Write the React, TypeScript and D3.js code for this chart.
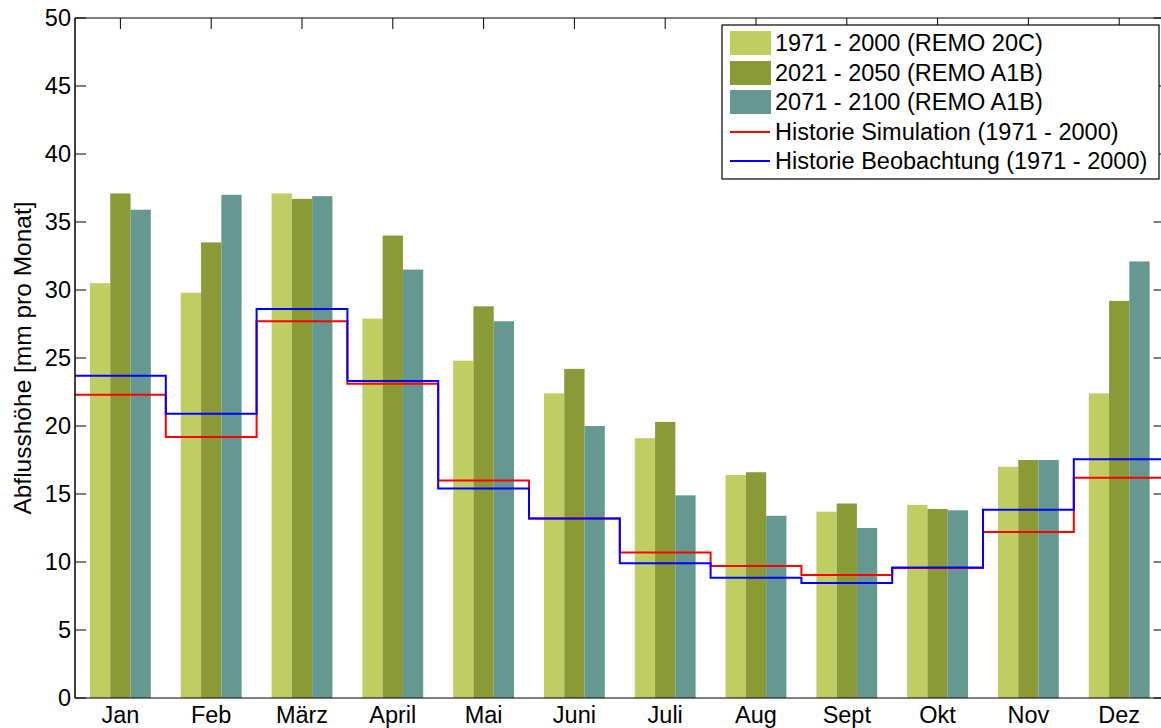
import React from "react";
import * as d3 from "d3";

const months = ["Jan", "Feb", "März", "April", "Mai", "Juni", "Juli", "Aug", "Sept", "Okt", "Nov", "Dez"];
const remo20C = [30.5, 29.8, 37.1, 27.9, 24.8, 22.4, 19.1, 16.4, 13.7, 14.2, 17.0, 22.4];
const remoA1B_2021 = [37.1, 33.5, 36.7, 34.0, 28.8, 24.2, 20.3, 16.6, 14.3, 13.9, 17.5, 29.2];
const remoA1B_2071 = [35.9, 37.0, 36.9, 31.5, 27.7, 20.0, 14.9, 13.4, 12.5, 13.8, 17.5, 32.1];
const histSim = [22.3, 19.2, 27.7, 23.1, 16.0, 13.2, 10.7, 9.7, 9.05, 9.55, 12.2, 16.2];
const histObs = [23.7, 20.9, 28.6, 23.3, 15.4, 13.2, 9.9, 8.85, 8.45, 9.6, 13.85, 17.55];
const yTicks = [0, 5, 10, 15, 20, 25, 30, 35, 40, 45, 50];
const seriesNames = ["1971 - 2000 (REMO 20C)", "2021 - 2050 (REMO A1B)", "2071 - 2100 (REMO A1B)"];
const lineNames = ["Historie Simulation (1971 - 2000)", "Historie Beobachtung (1971 - 2000)"];

const barColors = ["#bfcd63", "#8a9a36", "#649891"];
const lineColors = ["#ff0000", "#0000ff"];

export default function App() {
  const W = 1161, H = 728;
  const left = 75, top = 18, bottom = 698;
  const step = 90.8;
  const right = left + step * 12;
  const x = d3.scaleBand<string>().domain(months).range([left, right]).padding(0);
  const y = d3.scaleLinear().domain([0, 50]).range([bottom, top]);
  const series = [remo20C, remoA1B_2021, remoA1B_2071];
  const groupW = step * 0.67;
  const sub = d3.scaleBand<number>().domain([0, 1, 2]).range([-groupW / 2, groupW / 2]).padding(0);
  const font = "'Liberation Sans', Arial, sans-serif";
  const fs = 23.5;
  const tickLen = 11;

  const stepLine = (vals: number[]) => {
    const pts: [number, number][] = vals.map((v, i) => [x(months[i])!, y(v)]);
    pts.push([right, y(vals[vals.length - 1])]);
    return d3.line().curve(d3.curveStepAfter)(pts) || "";
  };

  const legendX = 722, legendY = 25, legendW = 437, legendH = 154;
  const rowYs = [43, 73, 102, 132, 161];

  return (
    <svg width={W} height={H} style={{ position: "absolute", left: 0, top: 0, background: "#fff" }} fontFamily={font}>
      <rect x={0} y={0} width={W} height={H} fill="#fff" />
      {months.map((m) => (
        <line key={"bt" + m} x1={x(m)! + step / 2} x2={x(m)! + step / 2} y1={bottom} y2={bottom - tickLen} stroke="#000" strokeWidth={1} />
      ))}
      {series.map((vals, si) =>
        vals.map((v, i) => (
          <rect
            key={`b${si}-${i}`}
            x={x(months[i])! + step / 2 + sub(si)!}
            y={y(v)}
            width={sub.bandwidth()}
            height={bottom - y(v)}
            fill={barColors[si]}
          />
        ))
      )}
      <path d={stepLine(histSim)} fill="none" stroke={lineColors[0]} strokeWidth={2} />
      <path d={stepLine(histObs)} fill="none" stroke={lineColors[1]} strokeWidth={2} />
      <line x1={left} x2={right} y1={top} y2={top} stroke="#000" strokeWidth={1.2} />
      <line x1={left} x2={right} y1={bottom} y2={bottom} stroke="#000" strokeWidth={1.2} />
      <line x1={left} x2={left} y1={top} y2={bottom} stroke="#000" strokeWidth={1.5} />
      <line x1={right} x2={right} y1={top} y2={bottom} stroke="#000" strokeWidth={1.2} />
      {months.map((m) => (
        <line key={"tt" + m} x1={x(m)! + step / 2} x2={x(m)! + step / 2} y1={top} y2={top + tickLen} stroke="#000" strokeWidth={1} />
      ))}
      {yTicks.map((t) => (
        <g key={"yt" + t}>
          <line x1={left} x2={left + tickLen} y1={y(t)} y2={y(t)} stroke="#000" strokeWidth={1} />
          <line x1={right} x2={right - tickLen} y1={y(t)} y2={y(t)} stroke="#000" strokeWidth={1} />
          <text x={left - 4} y={y(t)} dy="0.36em" textAnchor="end" fontSize={fs} fill="#000">
            {t}
          </text>
        </g>
      ))}
      {months.map((m) => (
        <text key={"xl" + m} x={x(m)! + step / 2} y={723} textAnchor="middle" fontSize={fs} fill="#000">
          {m}
        </text>
      ))}
      <text transform={`translate(31, ${(top + bottom) / 2}) rotate(-90)`} textAnchor="middle" fontSize={24.5} fill="#000">
        Abflusshöhe [mm pro Monat]
      </text>
      <rect x={legendX} y={legendY} width={legendW} height={legendH} fill="#fff" stroke="#000" strokeWidth={1.2} />
      {seriesNames.map((n, i) => (
        <g key={"ls" + i}>
          <rect x={730} y={rowYs[i] - 12} width={41} height={24} fill={barColors[i]} />
          <text x={775} y={rowYs[i]} dy="0.36em" fontSize={fs} fill="#000">{n}</text>
        </g>
      ))}
      {lineNames.map((n, i) => (
        <g key={"ll" + i}>
          <line x1={730} x2={770} y1={rowYs[3 + i]} y2={rowYs[3 + i]} stroke={lineColors[i]} strokeWidth={2} />
          <text x={775} y={rowYs[3 + i]} dy="0.36em" fontSize={fs} fill="#000">{n}</text>
        </g>
      ))}
    </svg>
  );
}
